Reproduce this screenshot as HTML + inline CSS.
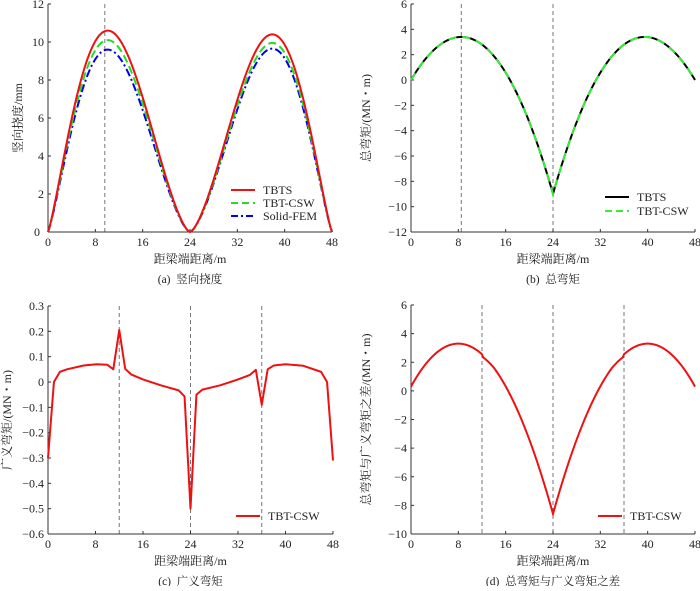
<!DOCTYPE html>
<html><head><meta charset="utf-8"><style>
html,body{margin:0;padding:0;background:#fff;}
svg text{font-family:"Liberation Serif","Noto Serif CJK SC","Noto Sans CJK SC",serif;fill:#222;}
</style></head><body>
<svg id="s" width="700" height="586" xmlns="http://www.w3.org/2000/svg"></svg>
<script>
const S=document.getElementById('s');
let out='';
function panel(o){
  const {x0,x1,yt,yb,ymin,ymax,yticks,fmt}=o;
  const X=v=>x0+(x1-x0)*v/48, Y=v=>yb-(yb-yt)*(v-ymin)/(ymax-ymin);
  o.X=X;o.Y=Y;
  (o.dash||[]).forEach(d=>{out+=`<line x1="${X(d)}" y1="${yt}" x2="${X(d)}" y2="${yb}" stroke="#777" stroke-width="1" stroke-dasharray="4,3"/>`;});
  out+=`<line x1="${x0}" y1="${yt}" x2="${x0}" y2="${yb}" stroke="#333" stroke-width="1"/>`;
  out+=`<line x1="${x0}" y1="${yb}" x2="${x1}" y2="${yb}" stroke="#333" stroke-width="1"/>`;
  [0,8,16,24,32,40,48].forEach(v=>{out+=`<line x1="${X(v)}" y1="${yb}" x2="${X(v)}" y2="${yb-3}" stroke="#333"/>`;
    out+=`<text x="${X(v)}" y="${yb+14}" font-size="12" text-anchor="middle">${v}</text>`;});
  yticks.forEach(v=>{out+=`<line x1="${x0}" y1="${Y(v)}" x2="${x0+3}" y2="${Y(v)}" stroke="#333"/>`;
    out+=`<text x="${x0-4}" y="${Y(v)+4}" font-size="12" text-anchor="end">${fmt(v)}</text>`;});
  out+=`<text x="${(x0+x1)/2}" y="${yb+31}" font-size="12" text-anchor="middle">距梁端距离/m</text>`;
  out+=`<text x="${(x0+x1)/2}" y="${yb+51}" font-size="11.5" text-anchor="middle">${o.cap}</text>`;
  out+=`<text transform="translate(${o.ylx},${(yt+yb)/2}) rotate(-90)" font-size="12" text-anchor="middle">${o.ylab}</text>`;
  return o;
}
function path(o,f,style,n=240){
  let d='';for(let i=0;i<=n;i++){const x=48*i/n;d+=(i?'L':'M')+o.X(x).toFixed(2)+','+o.Y(f(x)).toFixed(2);}
  out+=`<path d="${d}" fill="none" ${style}/>`;
}
function poly(o,pts,style){out+=`<path d="${pts.map((p,i)=>(i?'L':'M')+o.X(p[0]).toFixed(2)+','+o.Y(p[1]).toFixed(2)).join('')}" fill="none" ${style}/>`;}
function leg(x,y,style,t){out+=`<line x1="${x}" y1="${y}" x2="${x+24}" y2="${y}" ${style}/><text x="${x+32}" y="${y+4}" font-size="12">${t}</text>`;}
const neg=v=>v<0?'−'+(-v):''+v;
function cubic(k,p,P,E){
  const A=[[1,2*p,3*p*p],[p,p*p,p*p*p],[24,576,13824]],B=[0,P-k,E-k];
  const det=m=>m[0][0]*(m[1][1]*m[2][2]-m[1][2]*m[2][1])-m[0][1]*(m[1][0]*m[2][2]-m[1][2]*m[2][0])+m[0][2]*(m[1][0]*m[2][1]-m[1][1]*m[2][0]);
  const D=det(A);const r=[0,1,2].map(j=>det(A.map((row,i)=>row.map((v,jj)=>jj==j?B[i]:v)))/D);
  return x=>k+r[0]*x+r[1]*x*x+r[2]*x*x*x;
}
// (a)
const a=panel({x0:48,x1:332,yt:4,yb:232,ymin:0,ymax:12,yticks:[2,4,6,8,10,12],fmt:v=>v,dash:[9.6],cap:'(a)&#160;&#160;竖向挠度',ylab:'竖向挠度/mm',ylx:22});
out+=`<text x="40" y="236" font-size="12" text-anchor="end">0</text>`;
const sh=t=>Math.pow(Math.max(0,Math.sin(Math.PI*Math.pow(Math.max(0,t),0.8))),1.5);
const defl=(p1,p2)=>x=>x<=24?p1*sh(x/24):p2*sh((48-x)/24);
path(a,defl(9.6,9.65),'stroke="#0000ee" stroke-width="2" stroke-dasharray="8,3,2,3"');
path(a,defl(10.1,9.95),'stroke="#22dd22" stroke-width="2" stroke-dasharray="8,4"');
path(a,defl(10.6,10.4),'stroke="#ee1111" stroke-width="2"');
leg(231,190,'stroke="#ee1111" stroke-width="2"','TBTS');
leg(231,203,'stroke="#22dd22" stroke-width="2" stroke-dasharray="7,4"','TBT-CSW');
leg(231,216,'stroke="#0000ee" stroke-width="2" stroke-dasharray="7,3,2,3"','Solid-FEM');
// (b)
const b=panel({x0:411,x1:695,yt:4,yb:232,ymin:-12,ymax:6,yticks:[-12,-10,-8,-6,-4,-2,0,2,4,6],fmt:neg,dash:[8.5,24],cap:'(b)&#160;&#160;总弯矩',ylab:'总弯矩/(MN・m)',ylx:370});
const fb=cubic(0,8.5,3.4,-9);const mb=x=>x<=24?fb(x):fb(48-x);
path(b,mb,'stroke="#000" stroke-width="2"');
path(b,mb,'stroke="#33ee33" stroke-width="2" stroke-dasharray="8,6"');
leg(605,197,'stroke="#000" stroke-width="2"','TBTS');
leg(605,211,'stroke="#33ee33" stroke-width="2" stroke-dasharray="7,4"','TBT-CSW');
// (c)
const c=panel({x0:48,x1:333,yt:306,yb:534,ymin:-0.6,ymax:0.3,yticks:[-0.6,-0.5,-0.4,-0.3,-0.2,-0.1,0,0.1,0.2,0.3],fmt:v=>v==0?'0':neg(+v.toFixed(1)),dash:[12,24,36],cap:'(c)&#160;&#160;广义弯矩',ylab:'广义弯矩/(MN・m)',ylx:11});
poly(c,[[0,-0.3],[1,0],[2,0.04],[3.2,0.05],[6,0.065],[8.2,0.07],[10,0.068],[11,0.05],[12,0.205],[13,0.052],[14,0.03],[16,0.01],[19,-0.013],[22,-0.033],[23,-0.057],[24,-0.5],[25,-0.05],[26,-0.03],[29,-0.013],[32,0.01],[34,0.028],[35,0.048],[36,-0.09],[37,0.05],[38,0.065],[40,0.07],[43,0.064],[46,0.04],[47,0],[48,-0.31]],'stroke="#ee1111" stroke-width="2" stroke-linejoin="round"');
leg(236,516,'stroke="#ee1111" stroke-width="2"','TBT-CSW');
// (d)
const d=panel({x0:411,x1:695,yt:305,yb:534,ymin:-10,ymax:6,yticks:[-10,-8,-6,-4,-2,0,2,4,6],fmt:neg,dash:[12,24,36],cap:'(d)&#160;&#160;总弯矩与广义弯矩之差',ylab:'总弯矩与广义弯矩之差/(MN・m)',ylx:370});
const fd=cubic(0.3,8,3.3,-8.6);
const kink=x=>{let k=0;const t=Math.abs(x-12);if(x>12&&t<2)k-=0.15*(1-t/2);return k;};
const md=x=>x<=24?fd(x)+kink(x):fd(48-x)+kink(48-x);
path(d,md,'stroke="#ee1111" stroke-width="2"');
leg(598,516,'stroke="#ee1111" stroke-width="2"','TBT-CSW');
S.innerHTML=out;
</script>
</body></html>
